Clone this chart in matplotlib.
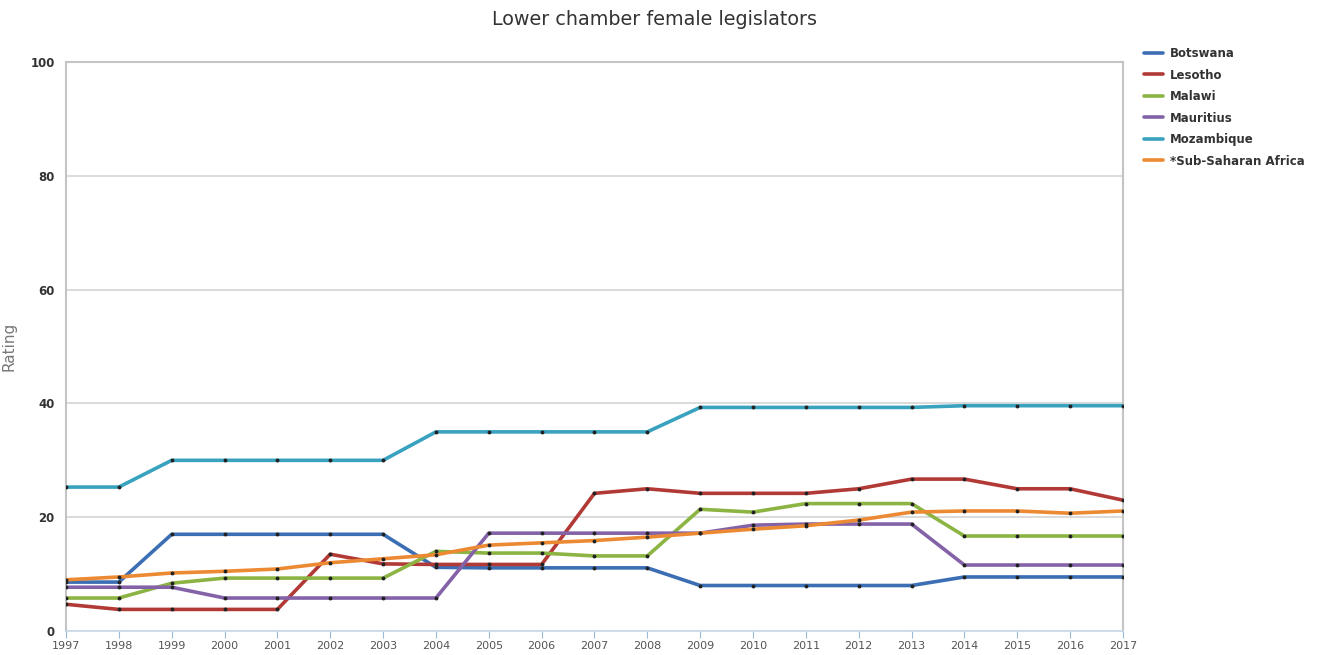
import numpy as np
import matplotlib
matplotlib.use('Agg')
import matplotlib.pyplot as plt

# ── データ ───────────────────────────────────────────────────────────────
years = list(range(1997, 2018))

botswana   = [8.6, 8.6, 17.0, 17.0, 17.0, 17.0, 17.0, 11.2, 11.1, 11.1, 11.1,
              11.1, 8.0, 8.0, 8.0, 8.0, 8.0, 9.5, 9.5, 9.5, 9.5]
lesotho    = [4.7, 3.8, 3.8, 3.8, 3.8, 13.5, 11.8, 11.7, 11.7, 11.7, 24.2,
              25.0, 24.2, 24.2, 24.2, 25.0, 26.7, 26.7, 25.0, 25.0, 23.0]
malawi     = [5.8, 5.8, 8.4, 9.3, 9.3, 9.3, 9.3, 14.0, 13.7, 13.7, 13.2,
              13.2, 21.4, 20.9, 22.4, 22.4, 22.4, 16.7, 16.7, 16.7, 16.7]
mauritius  = [7.7, 7.7, 7.7, 5.8, 5.8, 5.8, 5.8, 5.8, 17.2, 17.2, 17.2,
              17.2, 17.2, 18.6, 18.8, 18.8, 18.8, 11.6, 11.6, 11.6, 11.6]
mozambique = [25.3, 25.3, 30.0, 30.0, 30.0, 30.0, 30.0, 35.0, 35.0, 35.0, 35.0,
              35.0, 39.3, 39.3, 39.3, 39.3, 39.3, 39.6, 39.6, 39.6, 39.6]
ssa        = [9.0, 9.5, 10.2, 10.5, 10.9, 12.0, 12.7, 13.4, 15.1, 15.5, 15.9,
              16.5, 17.2, 17.9, 18.5, 19.5, 20.9, 21.1, 21.1, 20.7, 21.1]

names  = ['Botswana', 'Lesotho', 'Malawi', 'Mauritius', 'Mozambique',
          '*Sub-Saharan Africa']
series = [botswana, lesotho, malawi, mauritius, mozambique, ssa]
colors = ['#3c6eb4', '#b23a36', '#8cb443', '#8462a8', '#39a2bf', '#ec8a34']

# ── 描画 ─────────────────────────────────────────────────────────────────
plt.rcParams['font.family'] = ['DejaVu Sans']
fig = plt.figure(figsize=(13.25, 6.55), dpi=100)
ax = fig.add_axes([0.0498, 0.0366, 0.7977, 0.8687])

for name, vals, c in zip(names, series, colors):
    ax.plot(years, vals, color=c, lw=2.6, label=name, zorder=3,
            solid_capstyle='round')
    ax.plot(years, vals, ls='none', marker='o', ms=1.8, color='#222222',
            zorder=4)

ax.set_xlim(1997, 2017)
ax.set_ylim(0, 100)
ax.set_xticks(years)
ax.set_yticks([0, 20, 40, 60, 80, 100])
ax.tick_params(axis='x', labelsize=8, colors='#9ab8d8', labelcolor='#555555',
               length=5, pad=2)
ax.tick_params(axis='y', length=0, labelsize=8.5, labelcolor='#333333', pad=8)
for lab in ax.get_yticklabels():
    lab.set_fontweight('bold')
ax.yaxis.grid(True, color='#d4d4d4', lw=1.2)
ax.set_axisbelow(True)
for side in ['left', 'right', 'top']:
    ax.spines[side].set_color('#c4c4c4')
    ax.spines[side].set_linewidth(1.5)
ax.spines['bottom'].set_color('#c8d8e8')
ax.spines['bottom'].set_linewidth(1.2)

ax.set_ylabel('Rating', fontsize=11, color='#777777')
ax.yaxis.set_label_coords(-0.047, 0.5)
fig.suptitle('Lower chamber female legislators', fontsize=13.8, color='#333333',
             x=0.494, y=0.985)

leg = ax.legend(loc='upper left', bbox_to_anchor=(1.01, 1.045), frameon=False,
                handlelength=1.6, handletextpad=0.6, labelspacing=0.72,
                prop={'weight': 'bold', 'size': 8.5})
for t in leg.get_texts():
    t.set_color('#333333')

fig.savefig('out.png', dpi=100)
